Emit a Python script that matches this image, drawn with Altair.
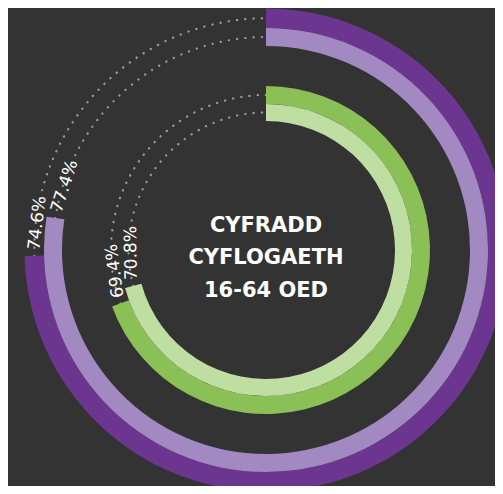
import math
import altair as alt
import pandas as pd

# ---- data ----
series = ["Cylch 1", "Cylch 2", "Cylch 3", "Cylch 4"]
values = [74.6, 77.4, 69.4, 70.8]
center_lines = ["CYFRADD", "CYFLOGAETH", "16-64 OED"]

df = pd.DataFrame({"series": series, "value": values})

# ---- styling ----
colors = ["#6c3590", "#a389c1", "#8bc057", "#bfdfa2"]
radii = [(222, 241.5), (204, 222), (146, 164), (129, 146)]
BG = "#333333"
DOT = "#9c9c9c"
CX, CY = 258, 242
TWO_PI = 2 * math.pi
theta_scale = alt.Scale(domain=[0, 100], range=[0, TWO_PI])

layers = []
for s, v, c, (ri, ro) in zip(series, values, colors, radii):
    rm = (ri + ro) / 2
    circ = TWO_PI * rm
    gap = 6 / circ * 100
    half = 28 / circ * 100
    base = alt.Chart(df).transform_filter(alt.datum.series == s)

    arc = base.transform_calculate(start="0").mark_arc(
        radius=ro, radius2=ri, color=c
    ).encode(
        theta=alt.Theta("start:Q", scale=theta_scale),
        theta2=alt.Theta2("value:Q"),
        x=alt.value(CX), y=alt.value(CY),
    )

    # dotted remainder (path runs forward and back, so align dots)
    L = rm * (100 - v) / 100 * TWO_PI
    n = max(1, round(2 * L / 8.3))
    P = 2 * L / n
    rest = base.transform_calculate(end="100").mark_arc(
        radius=rm, radius2=rm, filled=False, color=DOT, fillOpacity=0,
        strokeWidth=2.2, strokeCap="round", strokeDash=[0.001, P - 0.001]
    ).encode(
        theta=alt.Theta("value:Q", scale=theta_scale),
        theta2=alt.Theta2("end:Q"),
        x=alt.value(CX), y=alt.value(CY),
    )

    lab = base.transform_calculate(
        tpos=f"datum.value + {gap}",
        ang=f"(datum.value + {gap + half}) * 3.6",
        txt="format(datum.value, '.1f') + '%'",
    ).mark_text(
        radius=rm, align="left", baseline="middle", fontSize=17,
        color="white", font="DejaVu Sans"
    ).encode(
        theta=alt.Theta("tpos:Q", scale=theta_scale),
        angle=alt.Angle("ang:Q", scale=None),
        text=alt.Text("txt:N"),
        x=alt.value(CX), y=alt.value(CY),
    )
    layers += [rest, arc, lab]

center = alt.Chart(pd.DataFrame({"k": [0]})).mark_text(
    font="DejaVu Sans", fontSize=21, fontWeight="bold", color="white",
    lineHeight=32.5, align="center", baseline="middle"
).encode(
    text=alt.value(center_lines),
    x=alt.value(CX), y=alt.value(CY + 8 - 32.5),
)
layers.append(center)

chart = alt.layer(*layers).properties(
    width=487, height=478, background=BG, padding=0, autosize="none"
).configure_view(stroke=None)

chart.save("out.html", embed_options={"renderer": "svg", "actions": False})
